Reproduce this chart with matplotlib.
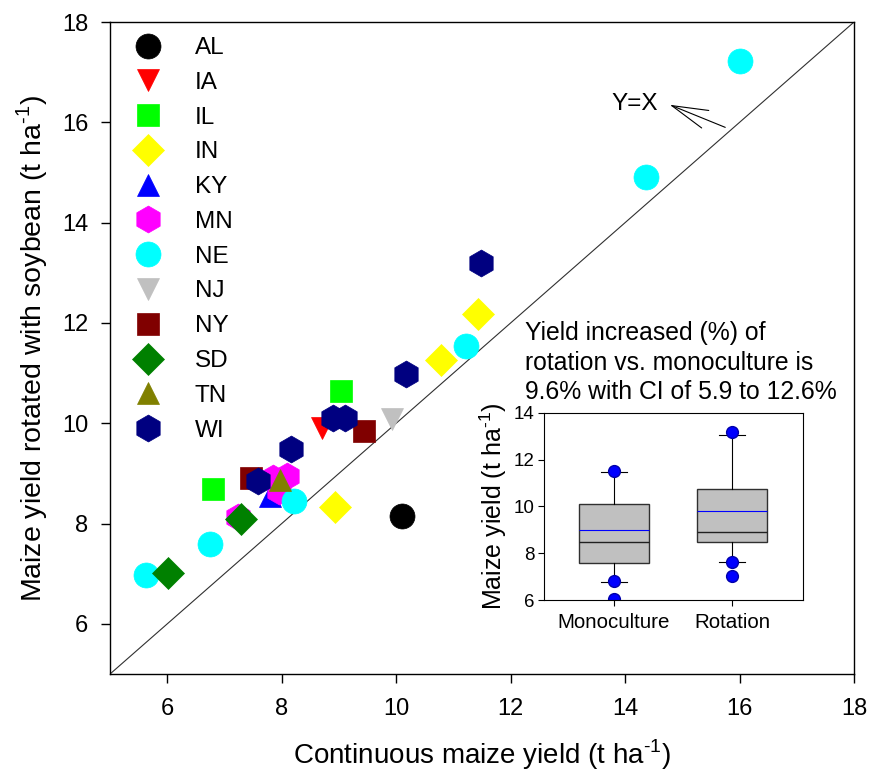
import matplotlib
matplotlib.use("Agg")
import matplotlib.pyplot as plt

plt.rcParams['font.family'] = ['Liberation Sans', 'DejaVu Sans']
plt.rcParams['mathtext.fontset'] = 'custom'
plt.rcParams['mathtext.rm'] = 'Liberation Sans'

# -----------------------------
# DATA: continuous maize (x) vs rotated with soybean (y), by state
# -----------------------------
states = ["AL", "IA", "IL", "IN", "KY", "MN", "NE", "NJ", "NY", "SD", "TN", "WI"]

al_x = [10.1]
al_y = [8.15]
ia_x = [8.7]
ia_y = [9.9]
il_x = [6.8, 9.04]
il_y = [8.68, 10.65]
in_x = [8.93, 10.79, 11.43]
in_y = [8.33, 11.27, 12.18]
ky_x = [7.8]
ky_y = [8.55]
mn_x = [7.23, 7.85, 8.1, 7.95]
mn_y = [8.13, 8.9, 8.95, 8.65]
ne_x = [5.63, 6.75, 8.22, 11.22, 14.36, 16.0]
ne_y = [6.97, 7.6, 8.45, 11.55, 14.92, 17.22]
nj_x = [9.92]
nj_y = [10.08]
ny_x = [7.47, 9.43]
ny_y = [8.91, 9.84]
sd_x = [6.02, 7.29]
sd_y = [7.02, 8.1]
tn_x = [7.97]
tn_y = [8.86]
wi_x = [7.58, 8.16, 8.9, 9.11, 10.17, 11.49]
wi_y = [8.85, 9.48, 10.1, 10.1, 10.98, 13.19]

xs = [al_x, ia_x, il_x, in_x, ky_x, mn_x, ne_x, nj_x, ny_x, sd_x, tn_x, wi_x]
ys = [al_y, ia_y, il_y, in_y, ky_y, mn_y, ne_y, nj_y, ny_y, sd_y, tn_y, wi_y]

# inset box plot summary (t/ha)
groups = ["Monoculture", "Rotation"]
q1 = [7.57, 8.47]
q3 = [10.11, 10.76]
medians = [8.46, 8.9]
means = [9.0, 9.81]
whis_lo = [6.78, 7.64]
whis_hi = [11.47, 13.04]
extremes = [[11.5, 6.8, 6.05], [13.2, 7.62, 7.02]]

# -----------------------------
# STYLES
# -----------------------------
markers = ['o', 'v', 's', 'D', '^', 'h', 'o', 'v', 's', 'D', '^', 'h']
colors = ['black', 'red', '#00ff00', 'yellow', 'blue', 'magenta', 'cyan',
          '#c0c0c0', '#800000', '#008000', '#808000', '#000080']
msize = {'o': 18, 'v': 16.5, '^': 16.5, 's': 16.3, 'D': 15.8, 'h': 19.4}
unit = r"(t ha$^{\text{-1}}$)"

fig = plt.figure(figsize=(8.71, 7.76), dpi=100)
ax = fig.add_axes([0.1263, 0.1314, 0.8542, 0.8402])

for st, x, y, m, c in zip(states, xs, ys, markers, colors):
    ax.plot(x, y, linestyle='none', marker=m, color=c, markersize=msize[m],
            markeredgewidth=0.5, markeredgecolor=c, label=st)

ax.axline((5, 5), slope=1, color='#303030', lw=0.8, zorder=1)

ax.set_xlim(5, 18)
ax.set_ylim(5, 18)
ax.set_xticks(range(6, 19, 2))
ax.set_yticks(range(6, 19, 2))
ax.tick_params(direction='out', length=6.5, width=1, labelsize=17, top=False, right=False)
ax.tick_params(axis='y', pad=9)
ax.tick_params(axis='x', pad=11)
for sp in ax.spines.values():
    sp.set_linewidth(1)
ax.set_xlabel("Continuous maize yield " + unit, fontsize=20, labelpad=12)
ax.set_ylabel("Maize yield rotated with soybean " + unit, fontsize=20.5, labelpad=9)

ax.legend(loc='upper left', bbox_to_anchor=(0.025, 0.977), frameon=False,
          fontsize=17.5, handlelength=1.6, handletextpad=1.13, labelspacing=0.525,
          borderpad=0, borderaxespad=0, numpoints=1)

# Y=X arrow
ax.annotate('', xy=(14.78, 16.35), xytext=(15.75, 15.9),
            arrowprops=dict(arrowstyle='->,head_length=2.6,head_width=0.68',
                            color='black', lw=0.8, shrinkA=0, shrinkB=0,
                            mutation_scale=10))
ax.text(14.17, 16.37, 'Y=X', fontsize=17.5, ha='center', va='center')

# -----------------------------
# INSET BOX PLOT
# -----------------------------
ax_in = fig.add_axes([0.6246, 0.2268, 0.2974, 0.2410])
stats = []
for i, g in enumerate(groups):
    stats.append(dict(label=g, q1=q1[i], q3=q3[i], med=medians[i], mean=means[i],
                      whislo=whis_lo[i], whishi=whis_hi[i], fliers=extremes[i]))
ax_in.bxp(stats, positions=[1, 2], widths=0.59, capwidths=0.22, patch_artist=True,
          showmeans=True, meanline=True,
          boxprops=dict(facecolor='#c0c0c0', edgecolor='#303030', lw=1),
          medianprops=dict(color='#202020', lw=1),
          meanprops=dict(color='blue', lw=0.8, linestyle='-'),
          whiskerprops=dict(color='black', lw=0.8),
          capprops=dict(color='black', lw=0.8),
          flierprops=dict(marker='o', markerfacecolor='blue', markeredgecolor='#0000aa',
                          markersize=8.5, linestyle='none'))
ax_in.set_xlim(0.41, 2.6)
ax_in.set_ylim(6, 14)
ax_in.set_yticks(range(6, 15, 2))
ax_in.tick_params(direction='out', length=4, width=0.8, top=False, right=False)
ax_in.tick_params(axis='y', labelsize=13.5, pad=3)
ax_in.tick_params(axis='x', labelsize=14.8, pad=5)
ax_in.set_ylabel("Maize yield " + unit, fontsize=18, labelpad=3)
ax_in.text(-0.073, 1.05, "Yield increased (%) of\nrotation vs. monoculture is\n9.6% with CI of 5.9 to 12.6%",
           transform=ax_in.transAxes, fontsize=17.8, ha='left', va='bottom', linespacing=1.27)

fig.savefig("out.png", dpi=100)
